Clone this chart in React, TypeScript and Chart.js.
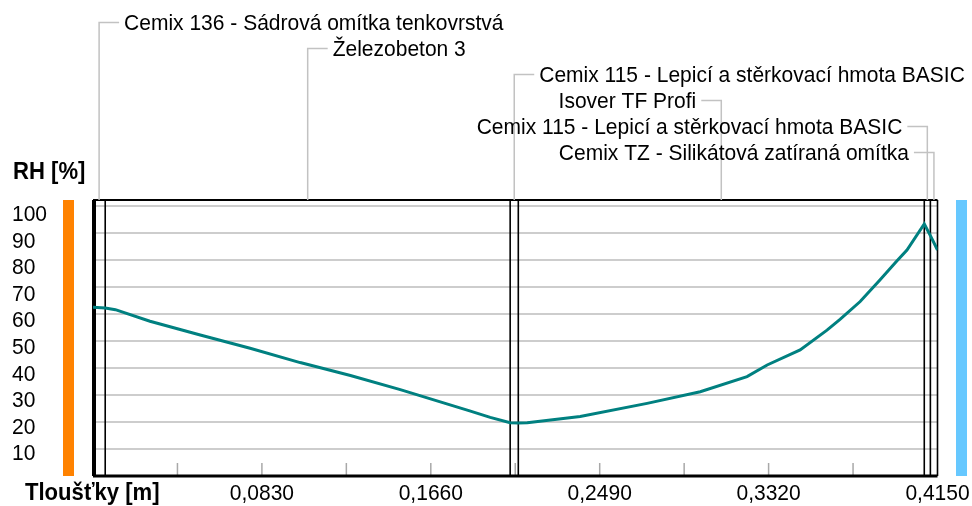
import React, { useEffect, useRef } from "react";
import { Chart, registerables } from "chart.js";

Chart.register(...registerables);

// ---- data ----
const thicknessM = [
  0, 0.006, 0.011, 0.028, 0.0527, 0.0772, 0.1018, 0.1265, 0.151, 0.1851, 0.1952, 0.205,
  0.209, 0.2134, 0.2394, 0.2723, 0.2984, 0.3214, 0.3313, 0.3475, 0.3607, 0.3671, 0.377,
  0.3867, 0.3949, 0.4, 0.4085, 0.4115, 0.415,
];
const rhPercent = [
  62.5, 62.2, 61.6, 57.3, 52.2, 47.3, 42.0, 37.2, 32.0, 24.1, 21.7, 19.7,
  19.6, 19.7, 22.0, 26.9, 31.2, 36.8, 41.1, 46.7, 54.0, 58.0, 64.6,
  72.6, 79.5, 83.7, 93.3, 89.0, 83.7,
];
const layerNames = [
  "Cemix 136 - Sádrová omítka tenkovrstvá",
  "Železobeton 3",
  "Cemix 115 - Lepicí a stěrkovací hmota BASIC",
  "Isover TF Profi",
  "Cemix 115 - Lepicí a stěrkovací hmota BASIC",
  "Cemix TZ - Silikátová zatíraná omítka",
];
const layerBoundaries = [0, 0.006, 0.205, 0.209, 0.4085, 0.4115, 0.415];
const yTickValues = [10, 20, 30, 40, 50, 60, 70, 80, 90, 100];
const xTickLabelValues = [0.083, 0.166, 0.249, 0.332, 0.415];
const xMinorTickValues = [0.0415, 0.083, 0.1245, 0.166, 0.2075, 0.249, 0.2905, 0.332, 0.3735];
const yAxisTitle = "RH [%]";
const xAxisTitle = "Tloušťky [m]";

const FONT = '"Liberation Sans", Arial, sans-serif';
const TEXT_SIZE = 22.5;
const TEXT_SX = 21 / 22.5;

function drawText(ctx: any, text: string, x: number, y: number, align: string, bold = false) {
  ctx.save();
  ctx.translate(x, y);
  ctx.scale(bold ? 0.96 : TEXT_SX, 1);
  ctx.font = bold ? `bold 23px ${FONT}` : `${TEXT_SIZE}px ${FONT}`;
  ctx.textAlign = align;
  ctx.textBaseline = "middle";
  ctx.fillStyle = "#000";
  ctx.fillText(text, 0, 0);
  ctx.restore();
}

const decorPlugin = {
  id: "decor",
  beforeDatasetsDraw(chart: any) {
    const { ctx, chartArea: a, scales } = chart;
    const xs = scales.x;
    const ys = scales.y;
    ctx.save();
    // horizontal gridlines
    ctx.strokeStyle = "#cdcdcd";
    ctx.lineWidth = 2;
    yTickValues.forEach((v) => {
      const py = Math.round(ys.getPixelForValue(v));
      ctx.beginPath();
      ctx.moveTo(a.left, py);
      ctx.lineTo(a.right, py);
      ctx.stroke();
    });
    // bottom minor ticks
    ctx.strokeStyle = "#a8a8a8";
    ctx.lineWidth = 1.5;
    xMinorTickValues.forEach((v) => {
      const px = xs.getPixelForValue(v);
      ctx.beginPath();
      ctx.moveTo(px, a.bottom - 13);
      ctx.lineTo(px, a.bottom);
      ctx.stroke();
    });
    // layer boundaries
    ctx.strokeStyle = "#000";
    ctx.lineWidth = 1.6;
    layerBoundaries.forEach((v) => {
      const px = xs.getPixelForValue(v);
      ctx.beginPath();
      ctx.moveTo(px, a.top);
      ctx.lineTo(px, a.bottom);
      ctx.stroke();
    });
    // frame
    ctx.lineWidth = 2;
    ctx.beginPath();
    ctx.moveTo(a.left, a.top);
    ctx.lineTo(a.right, a.top);
    ctx.stroke();
    ctx.lineWidth = 4;
    ctx.beginPath();
    ctx.moveTo(a.left + 1, a.top);
    ctx.lineTo(a.left + 1, a.bottom);
    ctx.stroke();
    ctx.lineWidth = 3;
    ctx.beginPath();
    ctx.moveTo(a.left, a.bottom);
    ctx.lineTo(a.right, a.bottom);
    ctx.stroke();
    ctx.restore();
  },
  afterDraw(chart: any) {
    const { ctx, chartArea: a, scales } = chart;
    const xs = scales.x;
    const ys = scales.y;
    ctx.save();
    // side bars
    ctx.fillStyle = "#ff8200";
    ctx.fillRect(63, a.top, 11, a.bottom - a.top);
    ctx.fillStyle = "#66c8ff";
    ctx.fillRect(956, a.top, 11, a.bottom - a.top);

    // y tick labels
    yTickValues.forEach((v) => {
      const py = ys.getPixelForValue(v) + 5 + ((v - 10) * 4) / 90;
      drawText(ctx, String(v), 12, py, "left");
    });
    // x tick labels
    xTickLabelValues.forEach((v) => {
      const px = xs.getPixelForValue(v);
      drawText(ctx, v.toFixed(4).replace(".", ","), px, 494, "center");
    });
    // axis titles
    drawText(ctx, yAxisTitle, 13, 173, "left", true);
    drawText(ctx, xAxisTitle, 25, 494, "left", true);

    // layer labels with leader lines
    ctx.font = `${TEXT_SIZE}px ${FONT}`;
    const leaderLen = 20;
    const gap = 5;
    layerNames.forEach((name, i) => {
      const mid = xs.getPixelForValue((layerBoundaries[i] + layerBoundaries[i + 1]) / 2);
      const ty = 24 + 26 * i;
      const ly = ty - 1.5;
      const leftSide = i < 3;
      ctx.strokeStyle = "#c2c2c2";
      ctx.lineWidth = 1.5;
      ctx.beginPath();
      ctx.moveTo(mid, a.top);
      ctx.lineTo(mid, ly);
      ctx.lineTo(leftSide ? mid + leaderLen : mid - leaderLen, ly);
      ctx.stroke();
      if (leftSide) {
        drawText(ctx, name, mid + leaderLen + gap, ty, "left");
      } else {
        drawText(ctx, name, mid - leaderLen - gap, ty, "right");
      }
    });
    ctx.restore();
  },
};

export default function App() {
  const ref = useRef<HTMLCanvasElement>(null);
  useEffect(() => {
    if (!ref.current) return;
    const chart = new Chart(ref.current, {
      type: "line",
      data: {
        datasets: [
          {
            data: thicknessM.map((x, i) => ({ x, y: rhPercent[i] })),
            borderColor: "#008080",
            borderWidth: 3,
            pointRadius: 0,
            tension: 0,
            fill: false,
          },
        ],
      },
      options: {
        responsive: false,
        animation: false,
        devicePixelRatio: 1,
        layout: { padding: { left: 93, right: 34.5, top: 200, bottom: 30 } },
        plugins: { legend: { display: false }, tooltip: { enabled: false } },
        scales: {
          x: { type: "linear", min: 0, max: 0.415, display: false },
          y: { type: "linear", min: 0, max: 102.2, display: false },
        },
      },
      plugins: [decorPlugin],
    });
    return () => chart.destroy();
  }, []);
  return (
    <div style={{ position: "fixed", left: 0, top: 0, width: 972, height: 506, background: "#fff" }}>
      <canvas ref={ref} width={972} height={506} style={{ width: 972, height: 506, display: "block" }} />
    </div>
  );
}
